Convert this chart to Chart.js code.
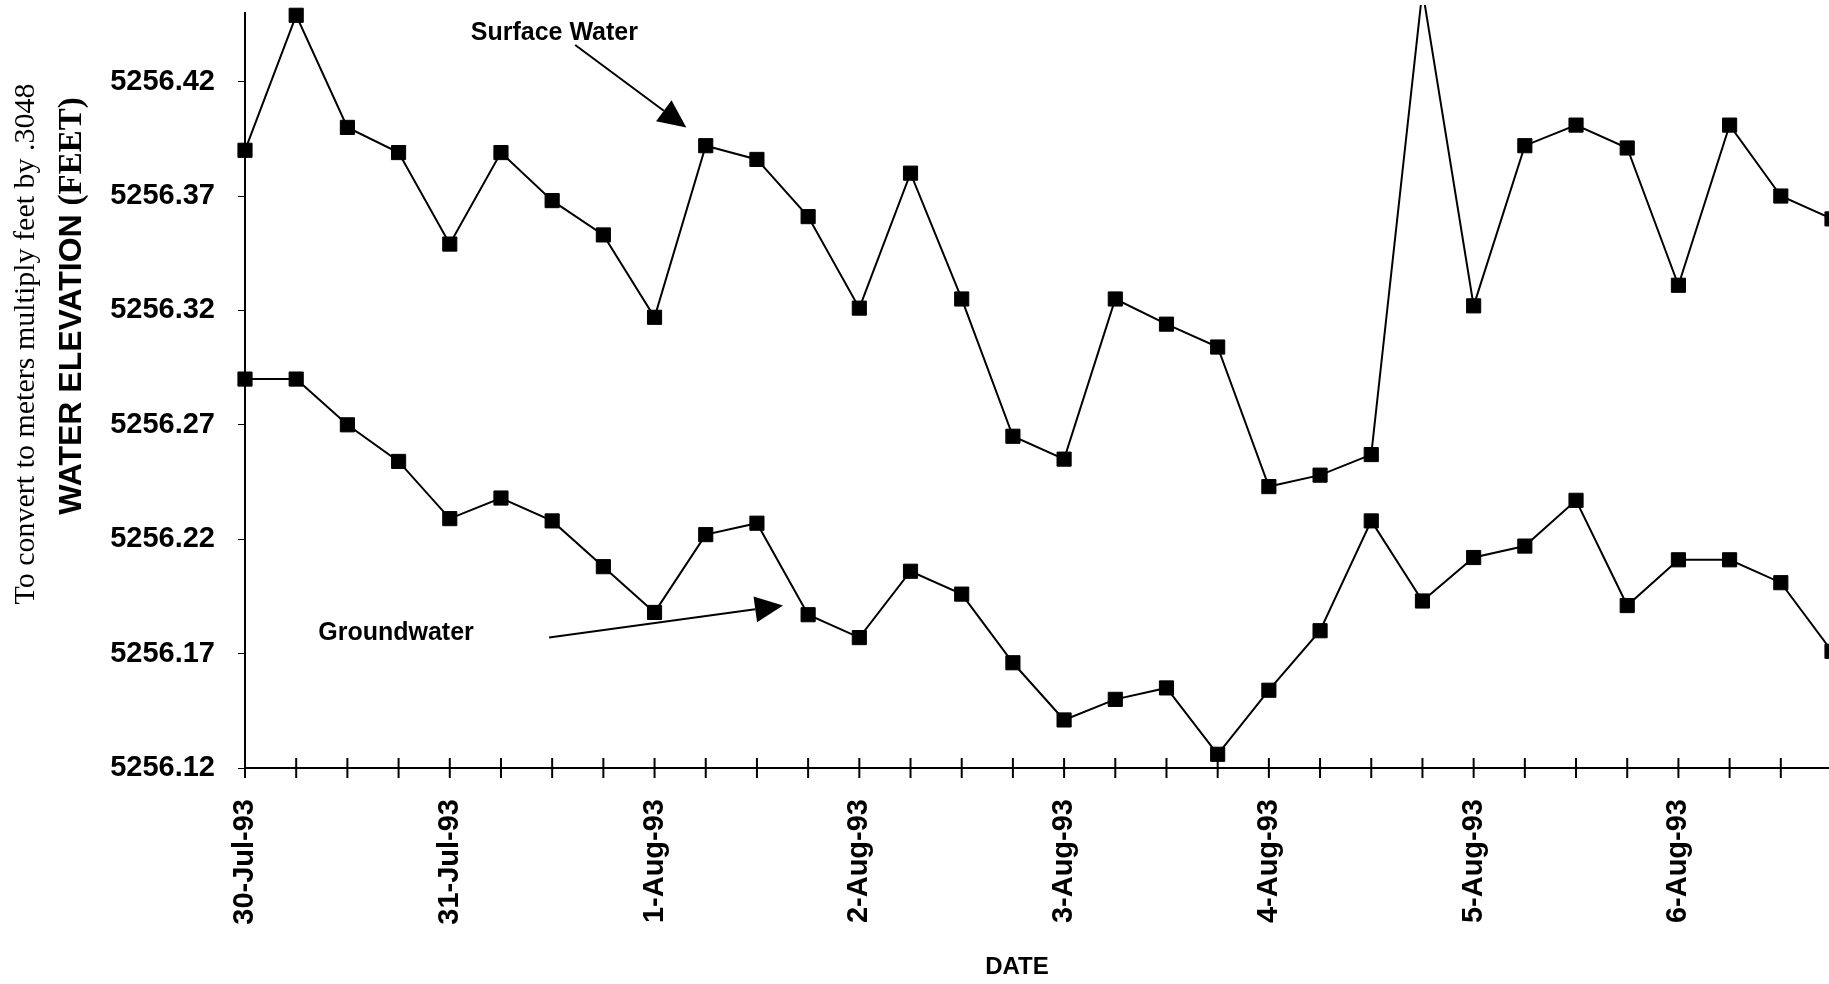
<!DOCTYPE html>
<html>
<head>
<meta charset="utf-8">
<title>Water Elevation</title>
<script src="https://cdn.jsdelivr.net/npm/chart.js@4.4.1/dist/chart.umd.min.js"></script>
<style>
  html, body { margin: 0; padding: 0; background: #fff; overflow: hidden; }
  #wrap { position: relative; width: 1832px; height: 984px; }
</style>
</head>
<body>
<div id="wrap"><canvas id="chart"></canvas></div>
<script>
// Readings every 6 hours, 30 Jul 1993 onward (feet above datum)
const days = ['30-Jul-93', '31-Jul-93', '1-Aug-93', '2-Aug-93', '3-Aug-93', '4-Aug-93', '5-Aug-93', '6-Aug-93'];
const readingsPerDay = 4;

const surfaceWater = [
  5256.390, 5256.449, 5256.400, 5256.389, 5256.349, 5256.389, 5256.368, 5256.353,
  5256.317, 5256.392, 5256.386, 5256.361, 5256.321, 5256.380, 5256.325, 5256.265,
  5256.255, 5256.325, 5256.314, 5256.304, 5256.243, 5256.248, 5256.257, 5256.460,
  5256.322, 5256.392, 5256.401, 5256.391, 5256.331, 5256.401, 5256.370, 5256.360
];

const groundwater = [
  5256.290, 5256.290, 5256.270, 5256.254, 5256.229, 5256.238, 5256.228, 5256.208,
  5256.188, 5256.222, 5256.227, 5256.187, 5256.177, 5256.206, 5256.196, 5256.166,
  5256.141, 5256.150, 5256.155, 5256.126, 5256.154, 5256.180, 5256.228, 5256.193,
  5256.212, 5256.217, 5256.237, 5256.191, 5256.211, 5256.211, 5256.201, 5256.171
];

const elevationTicks = [5256.12, 5256.17, 5256.22, 5256.27, 5256.32, 5256.37, 5256.42];
const elevationMin = 5256.12;
const elevationMax = 5256.45;

const labels = surfaceWater.map((_, i) => (i % readingsPerDay === 0 ? days[i / readingsPerDay] : ''));

const SANS = '"Liberation Sans", Arial, Helvetica, sans-serif';
const SERIF = '"Liberation Serif", "Times New Roman", serif';

// Callout text + arrow, anchored in data coordinates
const callouts = [
  { text: 'Surface Water', at: [4.41, 5256.441], from: [6.45, 5256.436], to: [8.62, 5256.400] },
  { text: 'Groundwater', at: [1.43, 5256.179], from: [5.94, 5256.177], to: [10.51, 5256.191] }
];

const decorations = {
  id: 'decorations',
  afterDraw(chart) {
    const { ctx, scales: { x, y } } = chart;
    const axisY = y.getPixelForValue(elevationMin);
    ctx.save();

    // crossing tick marks on the date axis
    ctx.strokeStyle = '#000';
    ctx.lineWidth = 2;
    for (let i = 0; i < labels.length; i++) {
      const px = x.getPixelForValue(i);
      ctx.beginPath();
      ctx.moveTo(px, axisY - 10);
      ctx.lineTo(px, axisY + 10);
      ctx.stroke();
    }

    // callouts
    ctx.fillStyle = '#000';
    ctx.font = 'bold 25px ' + SANS;
    ctx.textAlign = 'left';
    ctx.textBaseline = 'middle';
    callouts.forEach(c => {
      const tx = x.getPixelForValue(c.at[0]);
      const ty = y.getPixelForValue(c.at[1]);
      ctx.fillText(c.text, tx, ty);
      const x0 = x.getPixelForValue(c.from[0]), y0 = y.getPixelForValue(c.from[1]);
      const x1 = x.getPixelForValue(c.to[0]), y1 = y.getPixelForValue(c.to[1]);
      const len = Math.hypot(x1 - x0, y1 - y0);
      const ux = (x1 - x0) / len, uy = (y1 - y0) / len;
      const headLen = 28, headHalf = 13;
      const bx = x1 - ux * headLen, by = y1 - uy * headLen;
      ctx.lineWidth = 2;
      ctx.beginPath();
      ctx.moveTo(x0, y0);
      ctx.lineTo(bx, by);
      ctx.stroke();
      ctx.beginPath();
      ctx.moveTo(x1, y1);
      ctx.lineTo(bx - uy * headHalf, by + ux * headHalf);
      ctx.lineTo(bx + uy * headHalf, by - ux * headHalf);
      ctx.closePath();
      ctx.fill();
    });

    // vertical axis titles
    ctx.textBaseline = 'middle';
    ctx.save();
    ctx.translate(26, 344);
    ctx.rotate(-Math.PI / 2);
    ctx.font = '30px ' + SERIF;
    ctx.textAlign = 'center';
    ctx.fillText('To convert to meters multiply feet by .3048', 0, 0);
    ctx.restore();

    ctx.save();
    ctx.translate(72, 306);
    ctx.rotate(-Math.PI / 2);
    const partA = 'WATER ELEVATION ';
    const partB = '(FEET)';
    const fontA = 'bold 32px ' + SANS;
    const fontB = 'bold 33px ' + SERIF;
    ctx.font = fontA;
    const wA = ctx.measureText(partA).width;
    ctx.font = fontB;
    const wB = ctx.measureText(partB).width;
    const start = -(wA + wB) / 2;
    ctx.textAlign = 'left';
    ctx.font = fontA;
    ctx.fillText(partA, start, 0);
    ctx.font = fontB;
    ctx.fillText(partB, start + wA, 0);
    ctx.restore();

    // date axis title
    ctx.font = 'bold 24px ' + SANS;
    ctx.textAlign = 'center';
    ctx.fillText('DATE', 1017, 967);

    ctx.restore();
  }
};

const seriesStyle = {
  borderColor: '#000',
  backgroundColor: '#000',
  borderWidth: 2,
  pointStyle: 'rect',
  pointRadius: 10,
  pointHoverRadius: 10,
  pointBorderWidth: 1,
  pointBackgroundColor: '#000',
  pointBorderColor: '#000',
  tension: 0,
  fill: false,
  clip: { left: 12, top: 8, right: 12, bottom: 12 }
};

new Chart(document.getElementById('chart'), {
  type: 'line',
  data: {
    labels,
    datasets: [
      Object.assign({ label: 'Surface Water', data: surfaceWater }, seriesStyle),
      Object.assign({ label: 'Groundwater', data: groundwater }, seriesStyle)
    ]
  },
  options: {
    responsive: true,
    maintainAspectRatio: false,
    animation: false,
    events: [],
    layout: { autoPadding: false, padding: { top: 13, left: 0, right: 0, bottom: 0 } },
    plugins: { legend: { display: false }, tooltip: { enabled: false }, title: { display: false } },
    scales: {
      x: {
        type: 'category',
        offset: false,
        grid: { display: false, drawTicks: false },
        border: { display: true, color: '#000', width: 2 },
        ticks: {
          autoSkip: false,
          minRotation: 90,
          maxRotation: 90,
          padding: 31,
          color: '#000',
          font: { family: SANS, size: 29, weight: 'bold' }
        },
        afterFit(scale) {
          scale.height = 216;
          scale.paddingLeft = 0;
          scale.paddingRight = 0;
        }
      },
      y: {
        type: 'linear',
        min: elevationMin,
        max: elevationMax,
        afterBuildTicks(scale) {
          scale.ticks = elevationTicks.map(v => ({ value: v }));
        },
        grid: { drawOnChartArea: false, drawTicks: true, tickLength: 7, color: '#000', tickWidth: 1 },
        border: { display: true, color: '#000', width: 2 },
        ticks: {
          padding: 23,
          color: '#000',
          font: { family: SANS, size: 29, weight: 'bold' },
          callback: v => v.toFixed(2)
        },
        afterFit(scale) {
          scale.width = 245;
          scale.paddingTop = 0;
          scale.paddingBottom = 0;
        }
      }
    }
  },
  plugins: [decorations]
});
</script>
</body>
</html>
